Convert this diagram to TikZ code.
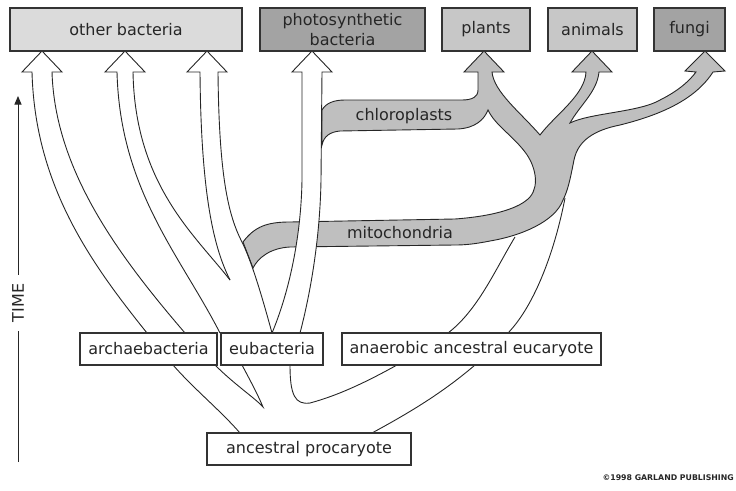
\documentclass[tikz,border=0pt]{standalone}
\usepackage{fontspec}
\setmainfont{DejaVu Sans}
\usetikzlibrary{arrows}
\definecolor{lightbox}{gray}{0.86}
\definecolor{midbox}{gray}{0.78}
\definecolor{darkbox}{gray}{0.64}
\definecolor{band}{gray}{0.75}
\tikzstyle{taxon} = [rectangle, draw=black!80, line width=1.3pt, text=black!85, text centered, font=\fontsize{16}{20}\selectfont]
\tikzstyle{edge} = [draw=black!85, line width=0.9pt]
\tikzstyle{label} = [text=black!85, font=\fontsize{16}{20}\selectfont]

\begin{document}
\begin{tikzpicture}[x=1pt,y=-1pt]
\useasboundingbox (0,0) rectangle (736,490);

% grey branches: chloroplasts, plants, animals, fungi, mitochondria
\draw [edge, fill=band] (243,242) .. controls (255,226) and (268,222) .. (290,222)
    -- (455,219) .. controls (495,216) and (520,208) .. (530,197)
    .. controls (540,185) and (535,165) .. (525,152)
    .. controls (512,135) and (495,125) .. (488,110)
    .. controls (484,120) and (475,128) .. (458,129)
    -- (340,131) .. controls (330,132) and (324,136) .. (322,145) -- (322,110)
    .. controls (326,103) and (334,100) .. (345,100)
    -- (462,100) .. controls (472,100) and (478,97) .. (478,90) -- (478,72)
    -- (464,72) -- (484,51) -- (504,72) -- (492,72)
    .. controls (494,92) and (520,112) .. (540,135)
    .. controls (555,115) and (585,95) .. (586,72)
    -- (572,72) -- (592,51) -- (612,72) -- (599,72)
    .. controls (597,92) and (580,105) .. (570,123)
    .. controls (590,113) and (640,112) .. (660,100)
    .. controls (680,90) and (690,80) .. (696,72)
    -- (685,71) -- (705,51) -- (725,71) -- (713,72)
    .. controls (695,100) and (660,115) .. (620,125)
    .. controls (595,130) and (578,140) .. (574,160)
    .. controls (570,180) and (568,190) .. (563,200)
    .. controls (555,222) and (520,236) .. (490,241)
    .. controls (475,244) and (465,245) .. (455,245)
    -- (290,247) .. controls (270,248) and (258,258) .. (253,268) -- cycle;
\node (chloro) [label] at (404,116) {chloroplasts};
\node (mito) [label] at (400,233) {mitochondria};

% white branches
\draw [edge] (147,333) .. controls (90,262) and (35,185) .. (32,72) -- (22,72) -- (42,51)
    -- (62,72) -- (52,72) .. controls (55,170) and (118,255) .. (185,333);
\draw [edge] (220,333) .. controls (180,255) and (120,190) .. (117,72) -- (105,72) -- (125,51)
    -- (145,72) -- (133,72) .. controls (135,185) and (195,235) .. (230,280);
\draw [edge] (230,280) .. controls (215,250) and (201,200) .. (200,72) -- (187,72) -- (207,51)
    -- (227,72) -- (218,72) .. controls (219,175) and (228,215) .. (242,242)
    .. controls (252,262) and (263,300) .. (272,333);
\draw [edge, fill=white] (272,333) .. controls (288,295) and (301,240) .. (302,180) -- (302,72)
    -- (292,72) -- (312,51) -- (332,72) -- (322,72) -- (321,180)
    .. controls (320,240) and (310,295) .. (300,333);
\draw [edge] (515,237) .. controls (495,270) and (478,310) .. (448,333);
\draw [edge] (565,198) .. controls (555,250) and (535,305) .. (508,333);
\draw [edge] (173,365) .. controls (195,390) and (220,410) .. (240,433);
\draw [edge] (215,365) .. controls (235,385) and (255,398) .. (263,407)
    .. controls (258,395) and (250,380) .. (242,365);
\draw [edge] (290,365) .. controls (290,395) and (295,405) .. (310,403)
    .. controls (340,395) and (370,380) .. (397,365);
\draw [edge] (475,365) .. controls (440,395) and (405,415) .. (372,433);

% groups
\node (other) [taxon, fill=lightbox, minimum width=232pt, minimum height=43pt] at (126,29.5) {other bacteria};
\node (photo) [taxon, fill=darkbox, minimum width=165pt, minimum height=43pt, align=center] at (342.5,29.5) {photosynthetic\\bacteria};
\node (plants) [taxon, fill=midbox, minimum width=88pt, minimum height=43pt] at (486,29.5) {plants};
\node (animals) [taxon, fill=midbox, minimum width=89pt, minimum height=43pt] at (592.5,29.5) {animals};
\node (fungi) [taxon, fill=darkbox, minimum width=71pt, minimum height=43pt] at (689.5,29.5) {fungi};

\node (archaea) [taxon, fill=white, minimum width=137pt, minimum height=32pt] at (148.5,349) {archaebacteria};
\node (eubact) [taxon, fill=white, minimum width=102pt, minimum height=32pt] at (272,349) {eubacteria};
\node (eucaryote) [taxon, fill=white, minimum width=259pt, minimum height=32pt] at (471.5,349) {anaerobic ancestral eucaryote};
\node (procaryote) [taxon, fill=white, minimum width=204pt, minimum height=32pt] at (309,449) {ancestral procaryote};

% time axis
\node (time) [label, rotate=90, inner sep=9pt] at (18,303) {TIME};
\coordinate (timestart) at (18,462);
\coordinate (timeend) at (18,96);
\draw [line width=1pt, black!85] (timestart) -- (time);
\draw [line width=1pt, black!85, ->, >=triangle 45] (time) -- (timeend);

\node (credit) [anchor=east, inner sep=0pt, text=black!85, font=\bfseries\fontsize{7.8}{9}\selectfont] at (734,478) {\textcopyright1998 GARLAND PUBLISHING};
\end{tikzpicture}
\end{document}
